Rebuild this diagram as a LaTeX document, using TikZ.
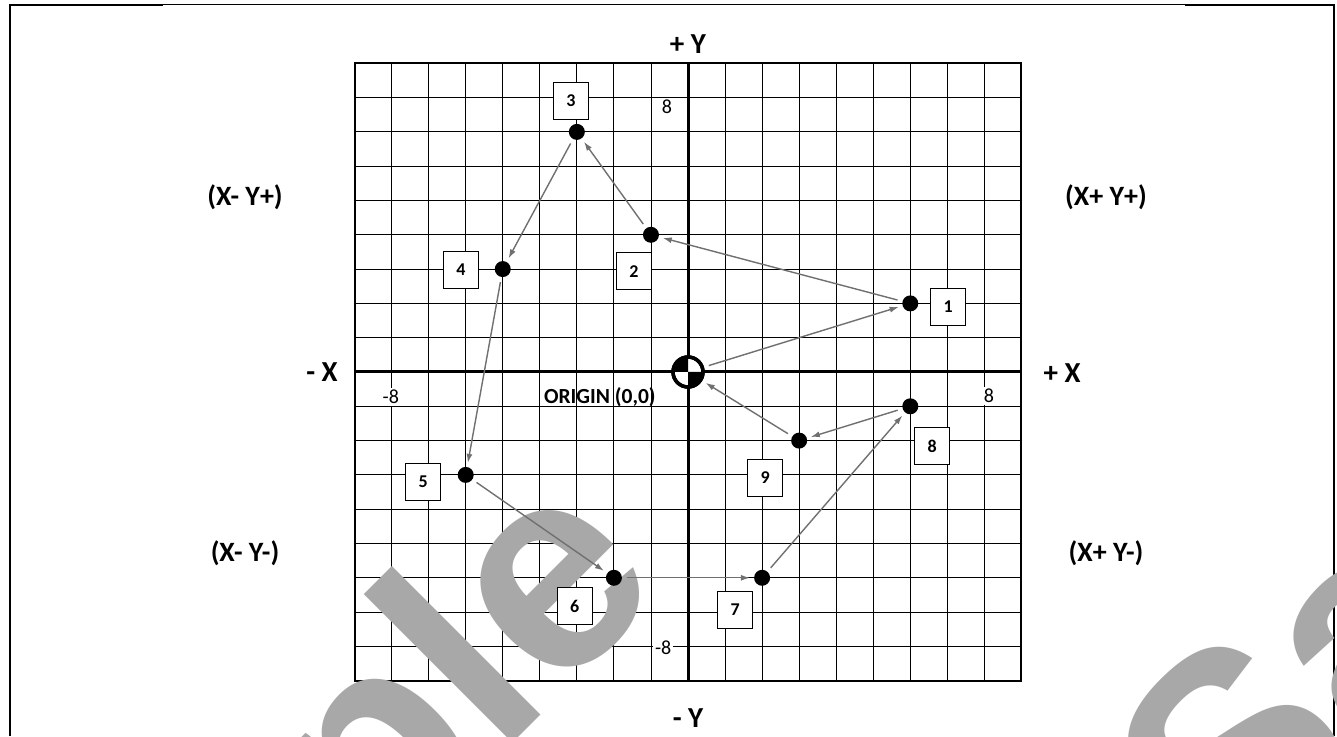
\documentclass[tikz,border=0pt]{standalone}
\usepackage{fontspec}
\setmainfont{Carlito}
\newfontfamily\wmfont{Liberation Sans}
\usetikzlibrary{arrows.meta}
\definecolor{arrowgray}{HTML}{707070}
\definecolor{wmgray}{HTML}{A8A8A8}
\begin{document}
\begin{tikzpicture}[x=1pt,y=1pt,
  dot/.style={circle,fill=black,minimum size=16pt,inner sep=0pt},
  numbox/.style={draw=black,line width=1.1pt,fill=white,minimum width=35pt,minimum height=37pt,inner sep=0pt,font=\bfseries\fontsize{18}{18}\selectfont},
  axlabel/.style={font=\bfseries\fontsize{29}{29}\selectfont},
  quadlabel/.style={font=\bfseries\fontsize{28}{28}\selectfont},
  ticklabel/.style={fill=white,inner sep=2pt,font=\fontsize{20}{20}\selectfont},
  originlabel/.style={font=\bfseries\fontsize{21.5}{21.5}\selectfont},
  move/.style={draw=arrowgray,line width=1.4pt,-{Latex[length=9pt,width=6pt]},shorten <=5pt,shorten >=4pt},
  gridline/.style={line width=0.9pt},
  watermark/.style={text=wmgray,font=\wmfont\bfseries\fontsize{290}{290}\selectfont,rotate=45,inner sep=0pt},
]
\useasboundingbox (0,0) rectangle (1337,736);
\fill[white] (0,0) rectangle (1337,736);
% frame
\draw[line width=2.5pt] (10,0) -- (10,731) -- (163,731);
\draw[line width=1pt] (163,731.5) -- (1185,731.5);
\draw[line width=2.5pt] (1185,731) -- (1334,731) -- (1334,0);

\begin{scope}[shift={(688,364)},x=37.05pt,y=34.3pt]
  \foreach \i in {-8,...,8} {
    \draw[gridline] (\i,-9) -- (\i,9);
    \draw[gridline] (-9,\i) -- (9,\i);
  }
  \draw[line width=2pt] (-9,-9) rectangle (9,9);
  \draw[line width=3pt] (-9,0) -- (9,0);
  \draw[line width=3pt] (0,-9) -- (0,9);

  \node[ticklabel] (ty1) at (-0.57,7.74) {8};
  \node[ticklabel] (ty2) at (-0.67,-8.05) {-8};
  \node[ticklabel] (tx1) at (-8.02,-0.73) {-8};
  \node[ticklabel] (tx2) at (8.12,-0.70) {8};
  \node[originlabel] (ol) at (-2.38,-0.73) {ORIGIN (0,0)};
\end{scope}

% watermark
\begin{scope}
  \clip (0,0) rectangle (1337,736);
  \node[watermark,anchor=base east] (wm1) at (670,149.5) {Sample};
  \node[watermark,anchor=base west] (wm2) at (1235,-156) {Sample};
\end{scope}

\begin{scope}[shift={(688,364)},x=37.05pt,y=34.3pt]
  \node[circle,draw=black,line width=3.5pt,fill=white,minimum size=30pt,inner sep=0pt] (O) at (0,0) {};
  \fill (O.center) -- ++(-14pt,0pt) arc[start angle=180,end angle=90,radius=14pt] -- cycle;
  \fill (O.center) -- ++(14pt,0pt) arc[start angle=0,end angle=-90,radius=14pt] -- cycle;
  \draw[line width=3.5pt] (O.center) circle[radius=15pt];

  \node[dot] (p1) at (6,2) {};
  \node[dot] (p2) at (-1,4) {};
  \node[dot] (p3) at (-3,7) {};
  \node[dot] (p4) at (-5,3) {};
  \node[dot] (p5) at (-6,-3) {};
  \node[dot] (p6) at (-2,-6) {};
  \node[dot] (p7) at (2,-6) {};
  \node[dot] (p8) at (6,-1) {};
  \node[dot] (p9) at (3,-2) {};

  \draw[move] (O) -- (p1);
  \draw[move] (p1) -- (p2);
  \draw[move] (p2) -- (p3);
  \draw[move] (p3) -- (p4);
  \draw[move] (p4) -- (p5);
  \draw[move] (p5) -- (p6);
  \draw[move] (p6) -- (p7);
  \draw[move] (p7) -- (p8);
  \draw[move] (p8) -- (p9);
  \draw[move] (p9) -- (O);

  \node[numbox] (b1) at (7.02,1.9) {1};
  \node[numbox] (b2) at (-1.46,2.94) {2};
  \node[numbox] (b3) at (-3.16,7.9) {3};
  \node[numbox] (b4) at (-6.13,2.97) {4};
  \node[numbox] (b5) at (-7.15,-3.2) {5};
  \node[numbox] (b6) at (-3.06,-6.83) {6};
  \node[numbox] (b7) at (1.27,-6.93) {7};
  \node[numbox] (b8) at (6.59,-2.16) {8};
  \node[numbox] (b9) at (2.08,-3.09) {9};
\end{scope}

\node[axlabel] (py) at (688,692) {+ Y};
\node[axlabel] (my) at (688,18) {- Y};
\node[axlabel] (mx) at (322,364) {- X};
\node[axlabel] (px) at (1062,363) {+ X};
\node[quadlabel] (q2) at (245,539) {(X- Y+)};
\node[quadlabel] (q1) at (1106,539) {(X+ Y+)};
\node[quadlabel] (q3) at (245,183) {(X- Y-)};
\node[quadlabel] (q4) at (1106,183) {(X+ Y-)};
\end{tikzpicture}
\end{document}
